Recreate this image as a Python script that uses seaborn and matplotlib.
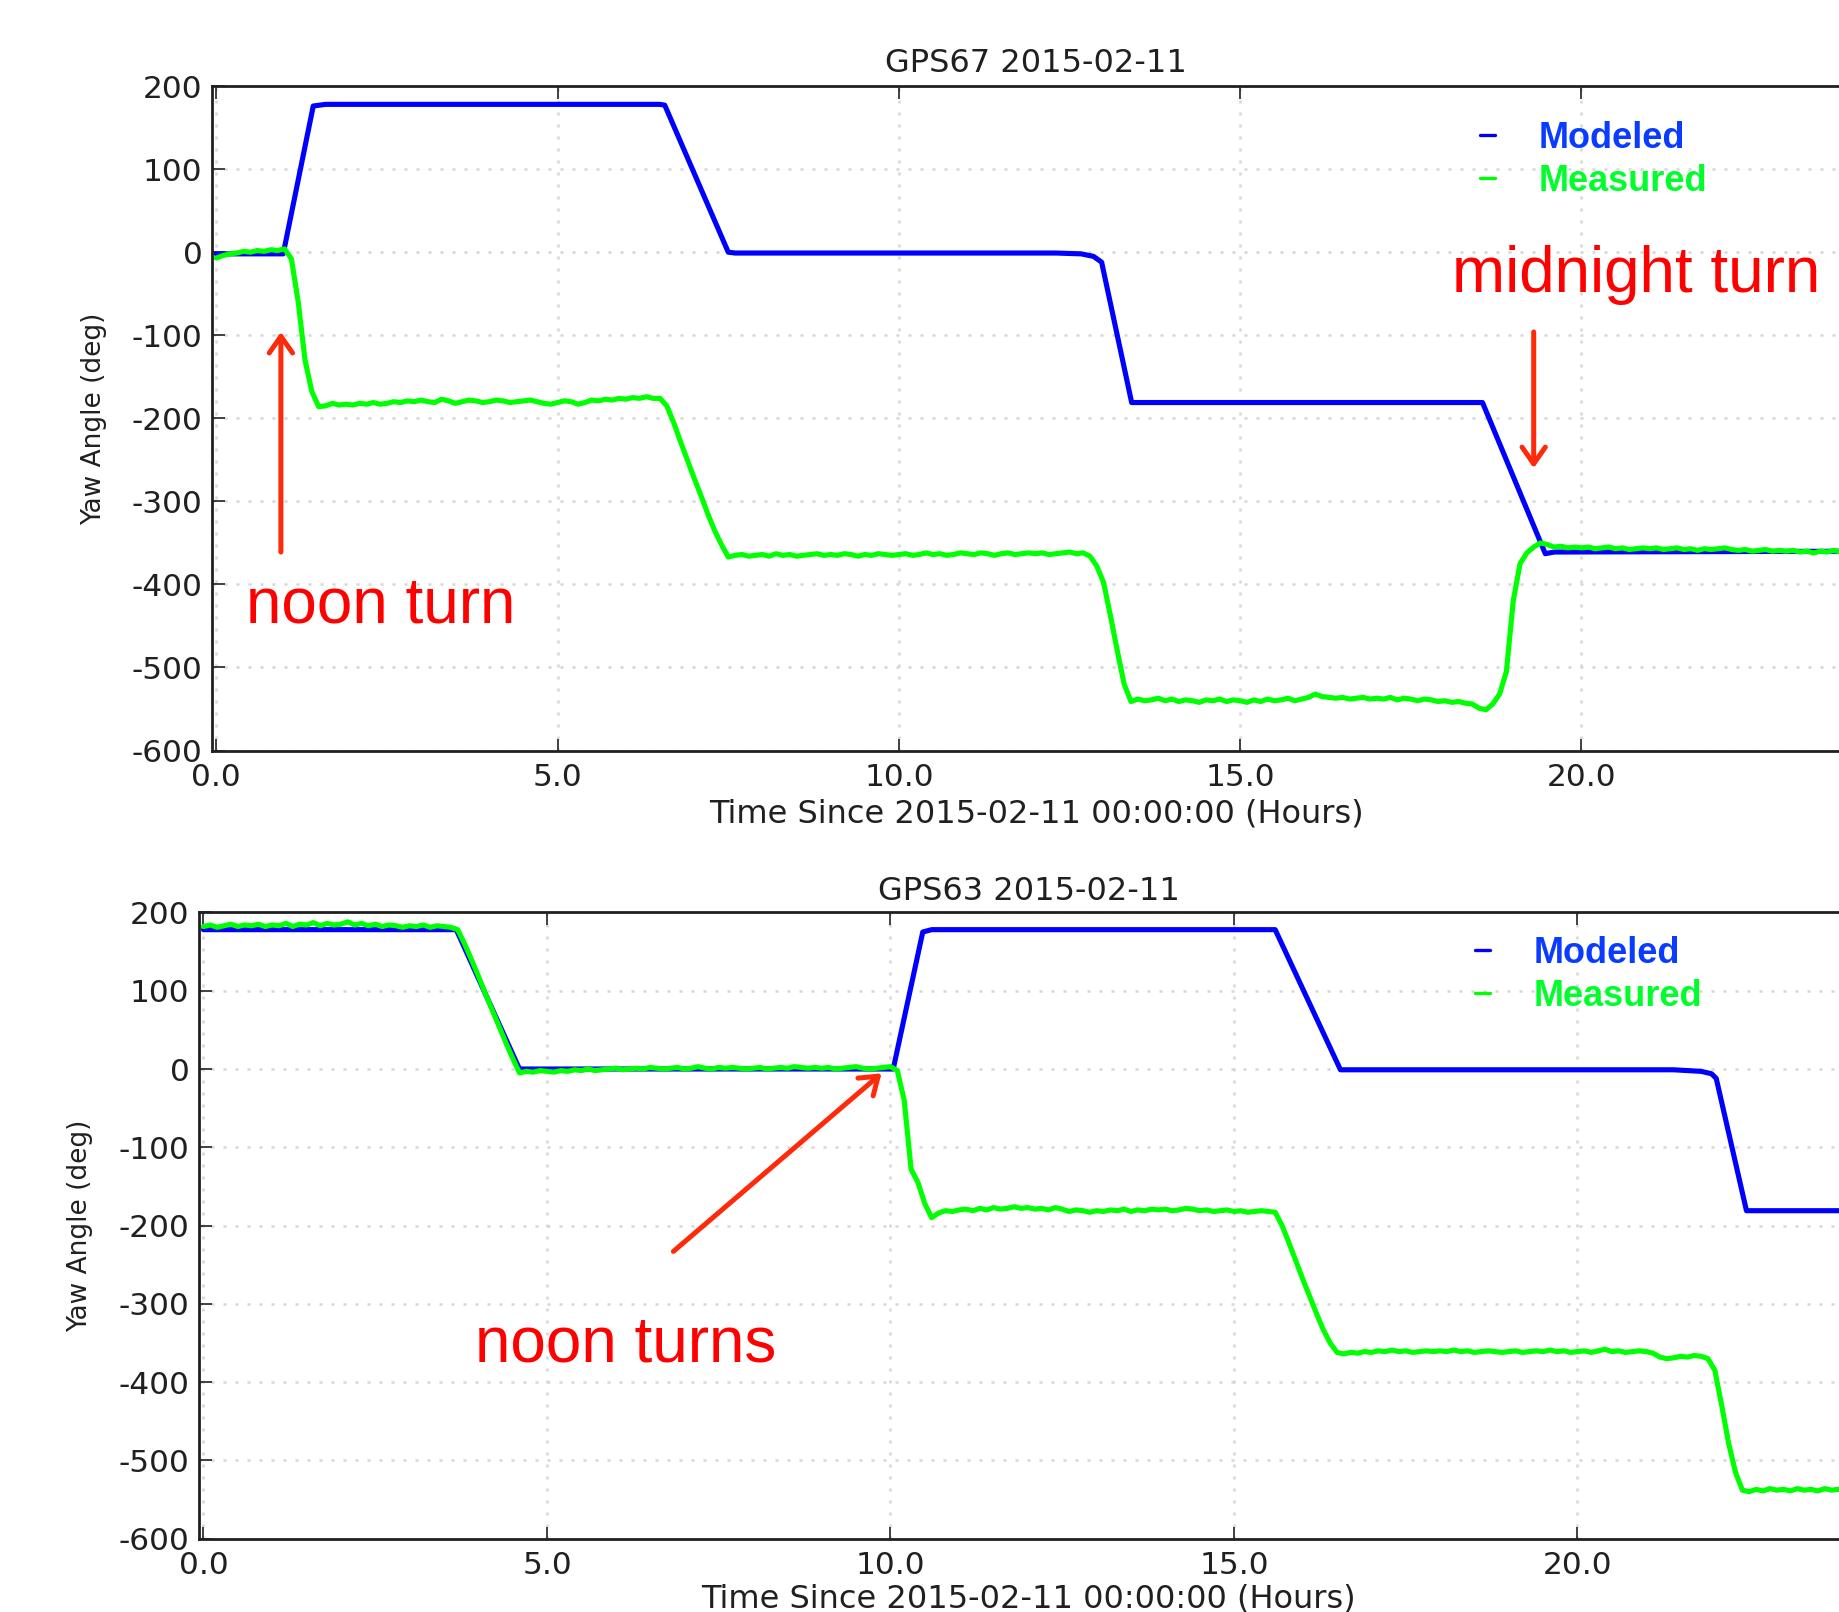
import numpy as np
import pandas as pd
import seaborn as sns
import matplotlib.pyplot as plt
from matplotlib.ticker import FormatStrFormatter

# time axis of the measured series: one sample every 0.1 h
hours = np.arange(242) / 10.0

# GPS67 modeled yaw, breakpoints (hours, deg)
gps67_model_t = [0.0, 0.98, 1.42, 1.6, 6.5, 6.57, 7.5, 7.6, 12.3, 12.67, 12.85, 12.97,
                 13.41, 18.55, 19.47, 19.6, 24.1]
gps67_model_v = [-2, -2, 176, 178, 178, 177, 0, -1, -1, -2, -5, -12,
                 -181, -181, -363, -361, -360]

# GPS67 measured yaw, one row per hour
gps67_meas = [
    -7, -4, -2, -1, 1, 0, 2, 1, 3, 2,
    4, -8, -60, -130, -168, -186, -185, -182, -184, -183,
    -184, -182, -183, -181, -183, -182, -180, -181, -179, -180,
    -178, -180, -181, -177, -179, -182, -180, -178, -179, -181,
    -180, -178, -179, -181, -180, -179, -178, -180, -182, -183,
    -181, -179, -180, -183, -181, -178, -179, -177, -178, -176,
    -177, -175, -176, -174, -176, -176, -185, -205, -228, -250,
    -272, -293, -315, -335, -352, -367, -365, -364, -366, -365,
    -364, -366, -363, -365, -364, -366, -365, -364, -363, -365,
    -364, -365, -363, -364, -366, -364, -365, -363, -364, -365,
    -364, -363, -365, -364, -362, -364, -363, -365, -364, -362,
    -363, -364, -362, -363, -365, -363, -362, -364, -363, -362,
    -363, -362, -364, -363, -362, -361, -363, -362, -366, -378,
    -398, -438, -480, -520, -541, -538, -540, -539, -537, -540,
    -538, -541, -539, -540, -542, -539, -540, -538, -541, -539,
    -540, -542, -539, -541, -538, -540, -539, -537, -540, -538,
    -536, -532, -535, -536, -537, -536, -538, -537, -536, -538,
    -537, -538, -536, -539, -537, -538, -540, -538, -539, -541,
    -540, -542, -541, -543, -544, -549, -551, -544, -532, -505,
    -420, -375, -362, -355, -350, -352, -355, -354, -356, -355,
    -356, -355, -357, -356, -355, -357, -356, -358, -357, -356,
    -357, -356, -358, -357, -356, -358, -357, -359, -357, -358,
    -357, -356, -358, -359, -358, -360, -359, -358, -360, -359,
    -360, -359, -361, -360, -362, -360, -361, -359, -361, -360,
    -361, -360,
]

# GPS63 modeled yaw, breakpoints
gps63_model_t = [0.0, 3.68, 4.6, 10.04, 10.47, 10.6, 15.6, 16.55, 21.4, 21.8, 21.95, 22.02,
                 22.46, 24.1]
gps63_model_v = [178, 178, 0, 0, 175, 178, 178, -1, -1, -3, -6, -12,
                 -181, -181]

# GPS63 measured yaw, one row per hour
gps63_meas = [
    182, 184, 181, 183, 185, 182, 184, 183, 185, 182,
    184, 183, 186, 182, 185, 184, 187, 183, 186, 184,
    185, 188, 184, 186, 183, 185, 182, 184, 183, 181,
    183, 182, 184, 181, 183, 182, 181, 178, 160, 140,
    119, 97, 76, 55, 34, 14, -5, -3, -4, -2,
    -3, -4, -2, -3, -1, -2, 0, -2, -1, 0,
    1, -1, 0, 1, 0, 2, 1, 0, 1, 2,
    0, 1, 3, 1, 0, 2, 1, 2, 1, 0,
    1, 2, 0, 1, 2, 1, 3, 2, 1, 2,
    1, 2, 0, 1, 2, 3, 1, 0, 1, 2,
    3, -2, -40, -128, -145, -172, -190, -184, -181, -182,
    -180, -179, -181, -178, -180, -177, -179, -178, -176, -178,
    -177, -179, -178, -180, -177, -179, -182, -180, -181, -183,
    -181, -182, -180, -181, -179, -182, -180, -181, -179, -180,
    -179, -181, -180, -178, -179, -181, -180, -182, -181, -180,
    -182, -181, -183, -182, -181, -182, -183, -200, -222, -245,
    -268, -290, -312, -333, -350, -362, -364, -362, -363, -361,
    -362, -360, -361, -359, -361, -360, -362, -361, -360, -361,
    -360, -361, -359, -361, -360, -362, -361, -360, -361, -362,
    -361, -360, -362, -361, -360, -361, -359, -361, -360, -362,
    -361, -360, -362, -360, -358, -361, -360, -362, -361, -360,
    -361, -363, -368, -370, -369, -367, -368, -366, -367, -370,
    -385, -430, -478, -515, -538, -540, -537, -539, -536, -538,
    -537, -539, -536, -538, -537, -539, -536, -538, -537, -538,
    -537, -538,
]

titles = ['GPS67 2015-02-11', 'GPS63 2015-02-11']
x_label = 'Time Since 2015-02-11 00:00:00 (Hours)'
y_label = 'Yaw Angle (deg)'
series_names = ['Modeled', 'Measured']

sns.set_style('ticks')
plt.rcParams['font.family'] = ['DejaVu Sans']
plt.rcParams['axes.unicode_minus'] = False

blue = '#0000ff'
green = '#00ff00'
arrow_red = '#ff2a0a'
text_red = '#ff0000'
dark = '#202020'

fig = plt.figure(figsize=(18.39, 16.12), dpi=100)
fig.patch.set_facecolor('white')
ax1 = fig.add_axes([0.1154, 0.5344, 0.896, 0.4122])
ax2 = fig.add_axes([0.1084, 0.04547, 0.9018, 0.3885])

panels = [
    (ax1, gps67_model_t, gps67_model_v, gps67_meas),
    (ax2, gps63_model_t, gps63_model_v, gps63_meas),
]

for i, (ax, mt, mv, meas) in enumerate(panels):
    model_df = pd.DataFrame({'hours': mt, 'yaw': mv})
    meas_df = pd.DataFrame({'hours': hours, 'yaw': meas})
    sns.lineplot(data=model_df, x='hours', y='yaw', ax=ax, color=blue, linewidth=3.7,
                 label=series_names[0], estimator=None)
    sns.lineplot(data=meas_df, x='hours', y='yaw', ax=ax, color=green, linewidth=3.7,
                 label=series_names[1], estimator=None)
    ax.set_xlim(-0.06, 24.08)
    ax.set_ylim(-600, 200)
    ax.set_xticks([0, 5, 10, 15, 20])
    ax.set_yticks(range(-600, 201, 100))
    ax.xaxis.set_major_formatter(FormatStrFormatter('%.1f'))
    ax.yaxis.set_major_formatter(FormatStrFormatter('%d'))
    ax.tick_params(axis='both', which='major', direction='in', length=9, width=1.2,
                   colors=dark, labelsize=22.5, top=True, right=True)
    ax.tick_params(axis='x', pad=9)
    ax.tick_params(axis='y', pad=7)
    for sp in ax.spines.values():
        sp.set_linewidth(2.0)
        sp.set_color(dark)
    ax.grid(True, color='#d6d6d6', linestyle=(0, (1.2, 3.6)), linewidth=1.8)
    ax.set_axisbelow(True)
    ax.set_xlabel(x_label, fontsize=23, color=dark)
    ax.set_ylabel(y_label, fontsize=19, color=dark)
    ax.set_title(titles[i], fontsize=23, color=dark, pad=10.4 if i == 0 else 8.9)
    ax.get_legend().remove()

ax1.xaxis.set_label_coords(0.5, -0.0715)
ax2.xaxis.set_label_coords(0.5, -0.072)
ax1.yaxis.set_label_coords(-0.0639, 0.5)
ax2.yaxis.set_label_coords(-0.0642, 0.5)

# legends
for ax, anchor in [(ax1, (0.8048, 0.925)), (ax2, (0.8021, 0.4194))]:
    leg = ax.legend(loc='upper left', bbox_to_anchor=anchor, bbox_transform=fig.transFigure,
                    frameon=False, borderpad=0, borderaxespad=0, handlelength=0.42,
                    handletextpad=1.2, labelspacing=0.22,
                    prop={'family': 'Liberation Sans', 'weight': 'bold', 'size': 26})
    for h in leg.legend_handles:
        h.set_linewidth(2.4)
    leg.get_texts()[0].set_color('#0a3cff')
    leg.get_texts()[1].set_color('#00ff2a')

# annotations
arrow_kw = dict(arrowstyle='->,head_length=0.4,head_width=0.28', color=arrow_red,
                lw=3.6, mutation_scale=30, shrinkA=0, shrinkB=0)
ax1.annotate('', xy=(0.946, -96), xytext=(0.946, -361), arrowprops=arrow_kw)
ax1.annotate('', xy=(19.3, -260), xytext=(19.3, -96), arrowprops=arrow_kw)
ax2.annotate('', xy=(9.87, -5.5), xytext=(6.84, -233), arrowprops=arrow_kw)

red_font = dict(family='Liberation Sans', size=46, color=text_red, ha='left', va='baseline')
ax1.text(0.44, -446, 'noon turn', **red_font)
ax1.text(18.1, -47.5, 'midnight turn', **red_font)
ax2.text(3.95, -374, 'noon turns', **red_font)

fig.savefig('out.png', dpi=100, facecolor='white')
